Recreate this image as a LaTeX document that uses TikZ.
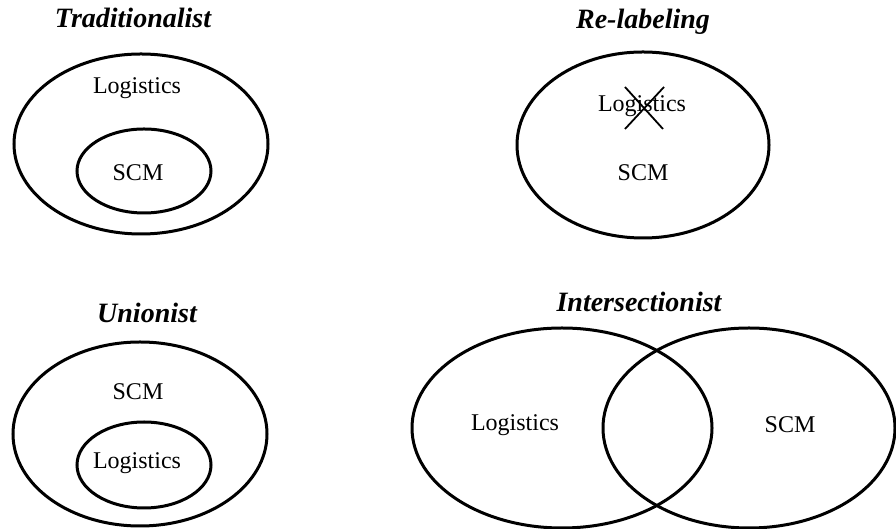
\documentclass[tikz,border=0pt]{standalone}
\usepackage{fontspec}
\setmainfont{Liberation Serif}
\usetikzlibrary{positioning}

\begin{document}
\begin{tikzpicture}[
				x=1pt, y=1pt,
				% styles for the four views
				title/.style={font=\fontsize{28}{32}\selectfont\bfseries\itshape},
				label/.style={font=\fontsize{24}{28}\selectfont, inner sep=0pt},
				set/.style={line width=3pt}
				]
				\pgfmathsetmacro{\OuterRx}{127}
				\pgfmathsetmacro{\OuterRy}{90}
				\pgfmathsetmacro{\InnerRx}{67}
				\pgfmathsetmacro{\InnerRy}{42}
				\useasboundingbox (0,0) rectangle (896,529);
				% Traditionalist
				\node[title] (TradTitle) at (133,511) {Traditionalist};
				\draw[set] (141,385) ellipse [x radius=\OuterRx, y radius=\OuterRy];
				\draw[set] (144,358) ellipse [x radius=\InnerRx, y radius=\InnerRy];
				\node[label] (TradLogistics) at (137,441) {Logistics};
				\node[label] (TradSCM) at (138,356) {SCM};
				% Re-labeling
				\node[title] (RelabelTitle) at (643,507) {Re-labeling};
				\draw[set] (643,384) ellipse [x radius=126, y radius=93];
				\node[label] (RelabelLogistics) at (642,423) {Logistics};
				\node[label] (RelabelSCM) at (643,356) {SCM};
				\coordinate (CrossPoint) at (644,421);
				\draw[line width=1.8pt] (CrossPoint) ++(-19,21) -- ++(38,-42);
				\draw[line width=1.8pt] (CrossPoint) ++(20,21) -- ++(-39,-42);
				% Unionist
				\node[title] (UnionTitle) at (147,216) {Unionist};
				\draw[set] (140,95) ellipse [x radius=\OuterRx, y radius=92];
				\draw[set] (144,64) ellipse [x radius=\InnerRx, y radius=43];
				\node[label] (UnionSCM) at (138,137) {SCM};
				\node[label] (UnionLogistics) at (137,66) {Logistics};
				% Intersectionist
				\node[title] (InterTitle) at (639,227) {Intersectionist};
				\draw[set] (562,101) ellipse [x radius=150, y radius=100];
				\draw[set] (749,101) ellipse [x radius=146, y radius=100];
				\node[label] (InterLogistics) at (515,104) {Logistics};
				\node[label] (InterSCM) at (790,104) {SCM};
			\end{tikzpicture}
\end{document}
